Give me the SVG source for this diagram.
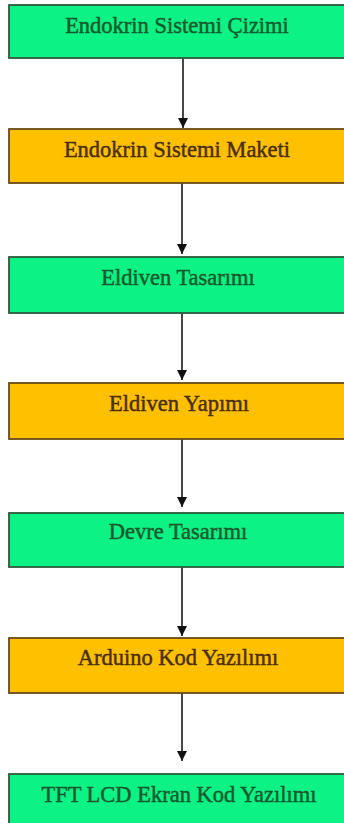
<svg xmlns="http://www.w3.org/2000/svg" width="344" height="823" viewBox="0 0 344 823">
  <defs>
    <style>
      .green rect { fill: #0cf285; stroke: #2c5a3c; stroke-width: 1.8; }
      .orange rect { fill: #ffc000; stroke: #6a4a18; stroke-width: 1.8; }
      text { font-family: "Liberation Serif", "Times New Roman", serif; font-size: 22.5px; text-anchor: middle; stroke-width: 0.45px; }
      .green text { fill: #145a2c; stroke: #145a2c; }
      .orange text { fill: #4a2e08; stroke: #4a2e08; }
      .conn line { stroke: #1a1a1a; stroke-width: 1.6; }
    </style>
    <marker id="arrow" viewBox="0 0 10 10" refX="10" refY="5" markerWidth="11" markerHeight="10" markerUnits="userSpaceOnUse" orient="auto">
      <path d="M0,0 L10,5 L0,10 z" fill="#111"/>
    </marker>
  </defs>
  <rect width="344" height="823" fill="#ffffff"/>

  <!-- connectors -->
  <g id="connectors" class="conn">
    <line x1="183" y1="58" x2="183" y2="128" marker-end="url(#arrow)"/>
    <line x1="182" y1="183" x2="182" y2="254" marker-end="url(#arrow)"/>
    <line x1="182" y1="313" x2="182" y2="380" marker-end="url(#arrow)"/>
    <line x1="182" y1="439" x2="182" y2="507" marker-end="url(#arrow)"/>
    <line x1="182" y1="567" x2="182" y2="636" marker-end="url(#arrow)"/>
    <line x1="182" y1="693" x2="182" y2="761" marker-end="url(#arrow)"/>
  </g>

  <!-- process steps -->
  <g id="step1" class="green">
    <rect x="9" y="5" width="340" height="53"/>
    <text x="177" y="33">Endokrin Sistemi Çizimi</text>
  </g>
  <g id="step2" class="orange">
    <rect x="9" y="129" width="340" height="54"/>
    <text x="177" y="157">Endokrin Sistemi Maketi</text>
  </g>
  <g id="step3" class="green">
    <rect x="9" y="257" width="340" height="56"/>
    <text x="178" y="285">Eldiven Tasarımı</text>
  </g>
  <g id="step4" class="orange">
    <rect x="9" y="383" width="340" height="56"/>
    <text x="179" y="411">Eldiven Yapımı</text>
  </g>
  <g id="step5" class="green">
    <rect x="9" y="513" width="340" height="54"/>
    <text x="178" y="539">Devre Tasarımı</text>
  </g>
  <g id="step6" class="orange">
    <rect x="9" y="638" width="340" height="55"/>
    <text x="178" y="665">Arduino Kod Yazılımı</text>
  </g>
  <g id="step7" class="green">
    <rect x="9" y="774" width="340" height="60"/>
    <text x="179" y="802">TFT LCD Ekran Kod Yazılımı</text>
  </g>
</svg>
